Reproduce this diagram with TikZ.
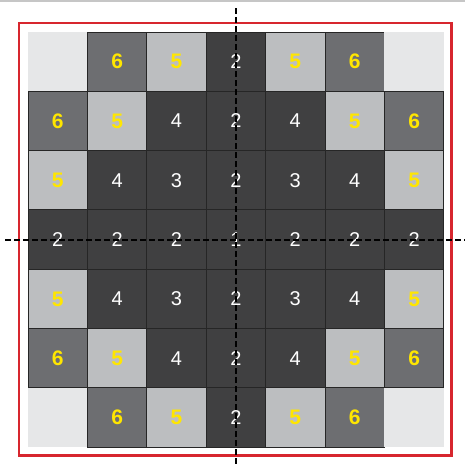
\documentclass[tikz,border=0pt]{standalone}
\usepackage{fontspec}
\setmainfont{Liberation Sans}
\usetikzlibrary{positioning}
\definecolor{frame}{HTML}{D7262E}
\definecolor{cellpale}{HTML}{E6E7E8}
\definecolor{cellmid}{HTML}{6D6E71}
\definecolor{celllight}{HTML}{BCBEC0}
\definecolor{celldark}{HTML}{404041}
\definecolor{digit}{HTML}{FFE600}

\begin{document}
\begin{tikzpicture}[x=1pt,y=-1pt,
  cell/.style={minimum size=59.4pt,inner sep=0pt,draw=black!85,line width=0.9pt,
    font=\fontsize{20}{20}\selectfont},
  nE/.style={fill=cellpale,draw=none},
  n6/.style={fill=cellmid,text=digit,font=\fontsize{21}{21}\selectfont\bfseries},
  n5/.style={fill=celllight,text=digit,font=\fontsize{21}{21}\selectfont\bfseries},
  n4/.style={fill=celldark,text=white},
  n3/.style={fill=celldark,text=white},
  n2/.style={fill=celldark,text=white},
  n1/.style={fill=celldark,text=white},
  axisline/.style={line width=2pt,dash pattern=on 5.5pt off 3.5pt}]
\useasboundingbox (0,0) rectangle (465,466);
\fill[white] (0,0) rectangle (465,466);
\draw[gray!45,line width=1.5pt] (0,1) -- (465,1);
\draw[frame,line width=2.2pt] (19,23) rectangle (451.5,455.5);
% 7x7 grid of cells
\foreach \r/\row in {0/{E/{},6/6,5/5,2/2,5/5,6/6,E/{}},
                     1/{6/6,5/5,4/4,2/2,4/4,5/5,6/6},
                     2/{5/5,4/4,3/3,2/2,3/3,4/4,5/5},
                     3/{2/2,2/2,2/2,1/1,2/2,2/2,2/2},
                     4/{5/5,4/4,3/3,2/2,3/3,4/4,5/5},
                     5/{6/6,5/5,4/4,2/2,4/4,5/5,6/6},
                     6/{E/{},6/6,5/5,2/2,5/5,6/6,E/{}}}
  \foreach \s/\t [count=\c from 0] in \row
    {\node[cell,n\s] (c\r\c) at (28+29.7+59.4*\c,32+29.7+59.3*\r) {\t};}
% axes through the centre cell
\coordinate (vtop) at (c33.center |- 0,8);
\coordinate (vbot) at (c33.center |- 0,466);
\coordinate (hleft) at (5,0 |- c33.center);
\coordinate (hright) at (465,0 |- c33.center);
\draw[axisline] (vtop) -- (vbot);
\draw[axisline] (hleft) -- (hright);
\end{tikzpicture}
\end{document}
